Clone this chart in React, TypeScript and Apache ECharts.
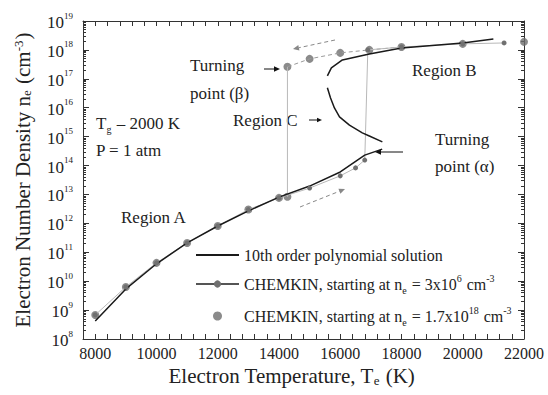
import React, { useEffect, useRef } from 'react';
import * as echarts from 'echarts';

const FONT = '"Liberation Serif", "Times New Roman", "DejaVu Serif", serif';

// Axis ticks
const decades = [8, 9, 10, 11, 12, 13, 14, 15, 16, 17, 18, 19];
const minorMultipliers = [2, 3, 4, 5, 6, 7, 8, 9];
const xTickLabels = [8000, 10000, 12000, 14000, 16000, 18000, 20000, 22000];

// 10th order polynomial solution (null = gap at turning points)
const polyT = [8000, 9000, 10000, 11000, 12000, 13000, 14000, 15000, 16000, 16800, 17370, null,
  17375, 16950, 16720, 16300, 15975, 15810, 15680, 15580, null,
  15580, 15710, 16070, 16950, 18000, 20000, 21000];
const polyNe = [4.2e8, 5.4e9, 4.0e10, 2.1e11, 8.1e11, 2.7e12, 8.1e12, 1.95e13, 6.0e13, 2.3e14, 3.7e14, null,
  6.6e14, 1.05e15, 1.35e15, 2.5e15, 4.8e15, 9.8e15, 2.2e16, 4.9e16, null,
  1.26e17, 2.4e17, 4.5e17, 7.2e17, 1.17e18, 1.74e18, 2.4e18];

// CHEMKIN, starting at ne = 3x10^6
const lowStartT = [8000, 9000, 10000, 11000, 12000, 13000, 14000, 15000, 16000, 16500, 16800, 16900, 18000, 20000, 21350];
const lowStartNe = [6.8e8, 6.3e9, 4.3e10, 2.1e11, 8.1e11, 3.0e12, 7.6e12, 1.66e13, 4.4e13, 8.3e13, 1.55e14, 1.0e18, 1.26e18, 1.62e18, 1.74e18];

// CHEMKIN, starting at ne = 1.7x10^18
const highStartT = [22000, 20000, 18000, 16950, 16000, 15000, 14275, 14275, 14000, 13000, 12000, 11000, 10000, 9000, 8000];
const highStartNe = [1.9e18, 1.62e18, 1.26e18, 1.0e18, 7.9e17, 4.9e17, 2.6e17, 8.3e12, 7.6e12, 3.0e12, 8.1e11, 2.1e11, 4.3e10, 6.3e9, 6.8e8];

const NAME_POLY = '10th order polynomial solution';
const NAME_LOW = 'CHEMKIN, starting at ne = 3x10^6 cm^-3';
const NAME_HIGH = 'CHEMKIN, starting at ne = 1.7x10^18 cm^-3';

const pair = (xs: (number | null)[], ys: (number | null)[]) =>
  xs.map((x, i) => (x === null || ys[i] === null ? ['-', '-'] : [x, ys[i]]));

const richBase = (size: number) => ({
  n: { fontSize: size, fontFamily: FONT, color: '#222', lineHeight: size + 6, verticalAlign: 'middle' },
  sub: { fontSize: Math.round(size * 0.6), fontFamily: FONT, color: '#222', lineHeight: Math.round(size * 0.6), verticalAlign: 'bottom', padding: [0, 1, 0, 0] },
  sup: { fontSize: Math.round(size * 0.6), fontFamily: FONT, color: '#222', lineHeight: Math.round(size * 0.6), verticalAlign: 'top', padding: [0, 1, 0, 0] },
});

function arrow(x1: number, y1: number, x2: number, y2: number, dashed: boolean, color: string, head = 6) {
  const ang = Math.atan2(y2 - y1, x2 - x1);
  const hw = head * 0.45;
  const bx = x2 - head * Math.cos(ang);
  const by = y2 - head * Math.sin(ang);
  const px = -Math.sin(ang) * hw;
  const py = Math.cos(ang) * hw;
  return {
    type: 'group',
    children: [
      { type: 'line', shape: { x1, y1, x2: bx, y2: by }, style: { stroke: color, lineWidth: 1, lineDash: dashed ? [4, 3] : null } },
      { type: 'polygon', shape: { points: [[x2, y2], [bx + px, by + py], [bx - px, by - py]] }, style: { fill: color } },
    ],
  };
}

function label(x: number, y: number, text: string, size = 17) {
  return {
    type: 'text',
    x,
    y,
    style: { text, rich: richBase(size), font: `${size}px ${FONT}`, fill: '#222', verticalAlign: 'middle', align: 'left' },
  };
}

export default function App() {
  const ref = useRef<HTMLDivElement>(null);
  useEffect(() => {
    document.body.style.margin = '0';
    if (!ref.current) return;
    const chart = echarts.init(ref.current, undefined, { renderer: 'svg' });
    const majors = decades.map((d) => Math.pow(10, d));
    const minors: number[] = [];
    decades.slice(0, -1).forEach((d) => minorMultipliers.forEach((m) => minors.push(m * Math.pow(10, d))));
    // supply both raw and log-space values; only those inside the axis extent survive
    const majorVals = [...majors, ...decades];
    const minorVals = [...minors, ...minors.map((v) => Math.log10(v))];

    const axisLineStyle = { color: '#333', width: 1 };
    const yBase = {
      type: 'log',
      logBase: 10,
      min: 1e8,
      max: 1e19,
      gridIndex: 0,
      splitLine: { show: false },
      axisLine: { show: true, lineStyle: axisLineStyle },
    };

    const legendRich = richBase(16);
    chart.setOption({
      animation: false,
      grid: { left: 83, right: 24, top: 21, bottom: 56, containLabel: false },
      xAxis: [
        {
          type: 'value', min: 7600, max: 22000, interval: 400, position: 'bottom',
          axisLine: { show: true, lineStyle: axisLineStyle },
          axisTick: { show: true, inside: true, length: 5, lineStyle: { color: '#333' } },
          splitLine: { show: false },
          axisLabel: {
            margin: 6, fontSize: 16, fontFamily: FONT, color: '#222',
            formatter: (v: number) => (xTickLabels.includes(v) ? String(v) : ''),
          },
          name: 'Electron Temperature, T{sub|e} (K)',
          nameLocation: 'middle', nameGap: 25,
          nameTextStyle: { fontSize: 21, fontFamily: FONT, color: '#222', rich: richBase(21), padding: [0, 24, 0, 0] },
        },
        {
          type: 'value', min: 7600, max: 22000, interval: 400, position: 'top',
          axisLine: { show: true, lineStyle: axisLineStyle },
          axisTick: { show: true, inside: true, length: 5, lineStyle: { color: '#333' } },
          splitLine: { show: false },
          axisLabel: { show: false },
        },
      ],
      yAxis: [
        {
          ...yBase, position: 'left',
          axisTick: { show: true, inside: true, length: 6, customValues: majorVals, lineStyle: { color: '#333' } },
          axisLabel: {
            customValues: majorVals,
            margin: 10,
            formatter: (v: number) => `{b|10}{s|${Math.round(Math.log10(v))}}`,
            rich: {
              b: { fontSize: 17, fontFamily: FONT, color: '#222', lineHeight: 20, verticalAlign: 'bottom' },
              s: { fontSize: 9, fontFamily: FONT, color: '#222', lineHeight: 11, verticalAlign: 'top' },
            },
          },
          name: 'Electron Number Density n{sub|e} (cm{sup|-3})',
          nameLocation: 'middle', nameGap: 50, nameRotate: 90,
          nameTextStyle: { fontSize: 21, fontFamily: FONT, color: '#222', rich: richBase(21) },
        },
        {
          ...yBase, position: 'left',
          axisLine: { show: false },
          axisTick: { show: true, inside: true, length: 3, customValues: minorVals, lineStyle: { color: '#333' } },
          axisLabel: { show: false },
        },
        {
          ...yBase, position: 'right',
          axisTick: { show: true, inside: true, length: 6, customValues: majorVals, lineStyle: { color: '#333' } },
          axisLabel: { show: false },
        },
        {
          ...yBase, position: 'right',
          axisLine: { show: false },
          axisTick: { show: true, inside: true, length: 3, customValues: minorVals, lineStyle: { color: '#333' } },
          axisLabel: { show: false },
        },
      ],
      legend: {
        orient: 'vertical', left: 190, top: 242,
        itemWidth: 43, itemHeight: 9, itemGap: 10,
        data: [
          { name: NAME_POLY, itemStyle: { opacity: 0 } },
          { name: NAME_LOW, lineStyle: { color: '#555' } },
          { name: NAME_HIGH },
        ],
        textStyle: { fontSize: 16, fontFamily: FONT, color: '#222', rich: legendRich },
        formatter: (name: string) => {
          if (name === NAME_POLY) return '{n|10th order polynomial solution}';
          if (name === NAME_LOW) return '{n|CHEMKIN, starting at n}{sub|e}{n| = 3x10}{sup|6}{n| cm}{sup|-3}';
          return '{n|CHEMKIN, starting at n}{sub|e}{n| = 1.7x10}{sup|18}{n| cm}{sup|-3}';
        },
      },
      series: [
        {
          name: 'highPathDashed', type: 'line', silent: true, symbol: 'none',
          data: pair(highStartT.slice(2, 7), highStartNe.slice(2, 7)),
          lineStyle: { color: '#9a9a9a', width: 1, type: [4, 3] },
        },
        {
          name: 'highPathDrop', type: 'line', silent: true, symbol: 'none',
          data: pair(highStartT.slice(6, 8), highStartNe.slice(6, 8)),
          lineStyle: { color: '#b8b8b8', width: 1 },
        },
        {
          name: NAME_LOW, type: 'line', symbol: 'circle', symbolSize: 5,
          data: pair(lowStartT, lowStartNe),
          lineStyle: { color: '#b8b8b8', width: 1 },
          itemStyle: { color: '#707070' },
        },
        {
          name: NAME_POLY, type: 'line', symbol: 'none', connectNulls: false,
          data: pair(polyT, polyNe),
          lineStyle: { color: '#1a1a1a', width: 1.5 },
          itemStyle: { color: '#1a1a1a' },
        },
        {
          name: NAME_HIGH, type: 'scatter', symbol: 'circle', symbolSize: 8,
          data: pair(highStartT, highStartNe),
          itemStyle: { color: '#6e6e6e' },
        },
      ],
      graphic: [
        label(190, 65, '{n|Turning}'),
        label(190, 93, '{n|point (β)}'),
        label(412, 70, '{n|Region B}'),
        label(233, 120, '{n|Region C}'),
        label(96, 123, '{n|T}{sub|g}{n| – 2000 K}'),
        label(96, 150, '{n|P = 1 atm}'),
        label(435, 139, '{n|Turning}'),
        label(435, 166, '{n|point (α)}'),
        label(121, 217, '{n|Region A}'),
        arrow(264, 69, 280, 69, false, '#111', 6),
        arrow(309, 120, 322, 120, false, '#111', 5),
        arrow(403, 152, 375, 152, false, '#111', 6),
        arrow(335, 40, 293, 49, true, '#888', 6),
        arrow(300, 207, 345, 189, true, '#888', 6),
      ],
    });
    return () => chart.dispose();
  }, []);
  return <div ref={ref} style={{ width: 548, height: 395 }} />;
}
